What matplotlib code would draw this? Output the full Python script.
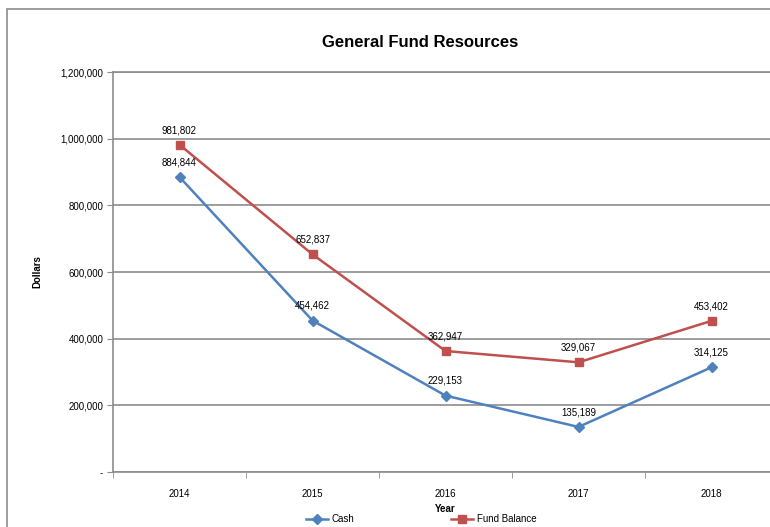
import matplotlib.pyplot as plt
import matplotlib.ticker as mticker
from matplotlib.patches import Rectangle

years = ['2014', '2015', '2016', '2017', '2018']
cash = [884844, 454462, 229153, 135189, 314125]
fund_balance = [981802, 652837, 362947, 329067, 453402]

plt.rcParams['font.family'] = ['Liberation Sans', 'DejaVu Sans']

fig = plt.figure(figsize=(7.7, 5.27), dpi=100)
ax = fig.add_axes([113 / 770, 55 / 527, 665 / 770, 400 / 527])

# outer chart border
fig.patches.append(Rectangle((7 / 770, -0.05), 1.2, (527 - 9) / 527 + 0.05,
                             transform=fig.transFigure, fill=False,
                             edgecolor='#8c8c8c', linewidth=1.2))

x = list(range(len(years)))
ax.plot(x, cash, color='#4F81BD', marker='D', markersize=5, linewidth=1.8,
        label='Cash', zorder=3)
ax.plot(x, fund_balance, color='#C0504D', marker='s', markersize=6, linewidth=1.8,
        label='Fund Balance', zorder=3)

for xi, v in zip(x, cash):
    ax.annotate(f'{v:,}', (xi, v), xytext=(0, 7), textcoords='offset points',
                ha='center', va='bottom', fontsize=7)
for xi, v in zip(x, fund_balance):
    ax.annotate(f'{v:,}', (xi, v), xytext=(0, 7), textcoords='offset points',
                ha='center', va='bottom', fontsize=7)

ax.set_xlim(-0.5, 4.5)
ax.set_ylim(0, 1200000)
ax.set_yticks(range(0, 1200001, 200000))
ax.yaxis.set_major_formatter(mticker.FuncFormatter(
    lambda v, p: '-' if v == 0 else f'{int(v):,}'))
ax.grid(axis='y', color='#8c8c8c', linewidth=1.2)
ax.set_axisbelow(True)

ax.set_xticks(x)
ax.set_xticklabels(years)
ax.set_xticks([i - 0.5 for i in range(len(years) + 1)], minor=True)
ax.tick_params(axis='x', which='major', length=0, pad=12, labelsize=7)
ax.tick_params(axis='x', which='minor', length=4, color='#8c8c8c')
ax.tick_params(axis='y', length=4, color='#8c8c8c', labelsize=7, pad=3)

for s in ['left', 'bottom', 'top']:
    ax.spines[s].set_color('#8c8c8c')
    ax.spines[s].set_linewidth(1.2)
ax.spines['right'].set_visible(False)

ax.set_xlabel('Year', fontsize=7, fontweight='bold', labelpad=4)
ax.set_ylabel('Dollars', fontsize=7, fontweight='bold', labelpad=13)
fig.text(0.546, 0.92, 'General Fund Resources', ha='center', va='center',
         fontsize=12, fontweight='bold')

fig.legend(loc='center', bbox_to_anchor=(0.547, 0.015), ncol=2, frameon=False,
           fontsize=7, columnspacing=10, handlelength=2.2, handletextpad=0.4)

fig.savefig('out.png', dpi=100)
